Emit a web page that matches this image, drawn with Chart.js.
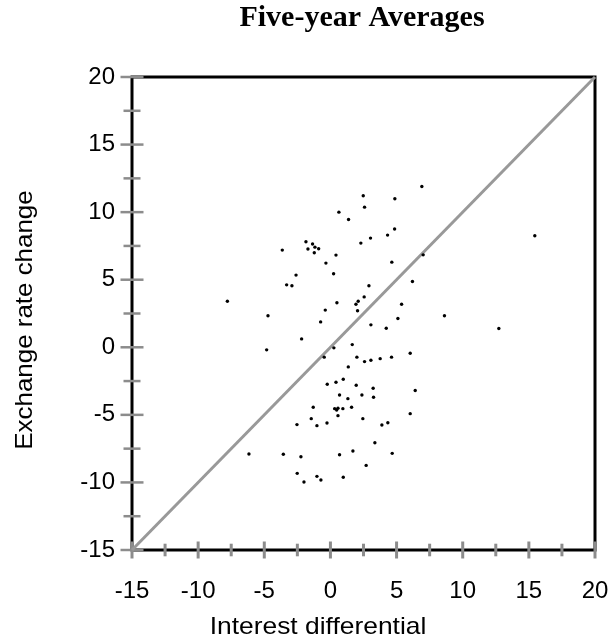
<!DOCTYPE html>
<html>
<head>
<meta charset="utf-8">
<script src="https://cdn.jsdelivr.net/npm/chart.js@4.4.1/dist/chart.umd.min.js"></script>
<style>
  html, body { margin: 0; padding: 0; background: #fff; }
  #wrap { width: 614px; height: 640px; }
</style>
</head>
<body>
<div id="wrap"><canvas id="scatterChart" width="614" height="640"></canvas></div>
<script>
// interest differential (x) and exchange rate change (y), one entry per country
var intDiff = [2.48, 4.87, 2.58, 0.64, 1.37, 4.85, 4.32, 3.03, 2.3, -1.85,
	-1.35, -1.17, -0.89, -1.7, -1.22, -3.64, 0.42, 4.64, -0.34, -2.6,
	0.24, -3.31, -2.91, 2.91, -7.79, 2.55, 2.1, 1.93, 0.49, -0.39,
	2.05, -4.72, -0.74, 5.1, 3.06, 4.22, -2.18, 1.65, 0.26, -4.82,
	-0.47, 2.0, 2.58, 3.06, 3.76, 4.62, 1.35, 6.91, 15.45, 7.01,
	6.2, 5.38, 8.62, 12.73, 6.03, -0.24, 0.42, 0.97, 1.95, 3.23,
	0.69, 1.32, 2.38, 3.26, -1.3, 0.32, 0.47, 0.57, 0.94, 1.6,
	0.57, -1.45, 2.45, -0.26, -2.53, -1.02, 3.89, 4.34, 3.36, -6.16,
	-3.56, -2.23, 0.69, 1.7, 4.67, 2.7, 6.41, 6.03, -2.51, -2.0,
	-1.02, -0.72, 0.97];
var exchChange = [11.21, 10.99, 10.37, 10.0, 9.46, 8.75, 8.3, 8.08, 7.71, 7.81,
	7.64, 7.41, 7.29, 7.27, 6.99, 7.19, 6.82, 6.3, 6.23, 5.34,
	5.44, 4.62, 4.55, 4.55, 3.41, 3.73, 3.41, 3.19, 3.29, 2.75,
	2.7, 2.33, 1.88, 2.13, 1.66, 1.41, 0.62, 0.2, -0.04, -0.19,
	-0.73, -0.73, -1.06, -0.96, -0.84, -0.73, -1.45, 11.9, 8.25, 6.84,
	4.87, 3.19, 2.33, 1.39, -0.44, -2.73, -2.59, -2.36, -2.81, -3.03,
	-3.53, -3.8, -3.53, -3.7, -4.44, -4.54, -4.64, -4.51, -4.54, -4.44,
	-5.06, -5.28, -5.28, -5.6, -5.72, -5.8, -5.75, -5.58, -7.06, -7.9,
	-7.92, -8.1, -7.95, -7.67, -7.85, -8.74, -3.2, -4.91, -9.33, -9.97,
	-9.55, -9.82, -9.62];

// 45 degree reference line
var lineX = [-15, 20];
var lineY = [-15, 20];

// labelled ticks (minor ticks every 2.5 in between)
var majorTicks = [-15, -10, -5, 0, 5, 10, 15, 20];

var points = [];
for (var i = 0; i < intDiff.length; i++)
	points.push({x: intDiff[i], y: exchChange[i]});

var diag = [];
for (var i = 0; i < lineX.length; i++)
	diag.push({x: lineX[i], y: lineY[i]});

var sansFont = '"Liberation Sans", Arial, sans-serif';

// frame + gray ticks crossing the axis lines
var framePlugin = {
	id: 'frame',
	beforeDatasetsDraw: function(chart) {
		var ctx = chart.ctx;
		var a = chart.chartArea;
		var xs = chart.scales.x, ys = chart.scales.y;

		ctx.save();
		ctx.strokeStyle = '#000';
		ctx.lineWidth = 3;
		ctx.strokeRect(a.left, a.top, a.right - a.left, a.bottom - a.top);

		ctx.strokeStyle = '#8c8c8c';
		ctx.lineWidth = 3;
		xs.ticks.forEach(function(t) {
			var px = xs.getPixelForValue(t.value);
			var len = majorTicks.indexOf(t.value) >= 0 ? 8.5 : 6.3;
			ctx.beginPath();
			ctx.moveTo(px, a.bottom - len);
			ctx.lineTo(px, a.bottom + len);
			ctx.stroke();
		});
		ctx.lineWidth = 2.5;
		ys.ticks.forEach(function(t) {
			var py = ys.getPixelForValue(t.value);
			var len = majorTicks.indexOf(t.value) >= 0 ? 11.5 : 8.5;
			ctx.beginPath();
			ctx.moveTo(a.left - len, py);
			ctx.lineTo(a.left + len, py);
			ctx.stroke();
		});
		ctx.restore();
	}
};

// titles, stretched a bit like the original
var textPlugin = {
	id: 'texts',
	afterDraw: function(chart) {
		var ctx = chart.ctx;
		ctx.save();
		ctx.fillStyle = '#000';
		ctx.textAlign = 'center';
		ctx.textBaseline = 'alphabetic';

		ctx.font = 'bold 30px "Liberation Serif", "Times New Roman", serif';
		ctx.fillText('Five-year Averages', 362, 26);

		ctx.font = '24px ' + sansFont;
		ctx.save();
		ctx.translate(318, 634);
		ctx.scale(1.1, 1);
		ctx.fillText('Interest differential', 0, 0);
		ctx.restore();

		ctx.save();
		ctx.translate(32, 320);
		ctx.rotate(-Math.PI / 2);
		ctx.scale(1.08, 1);
		ctx.fillText('Exchange rate change', 0, 0);
		ctx.restore();

		ctx.restore();
	}
};

function tickLabel(v) {
	return majorTicks.indexOf(v) >= 0 ? String(v) : '';
}

var ctx = document.getElementById('scatterChart').getContext('2d');
var chart = new Chart(ctx, {
	type: 'scatter',
	data: {
		datasets: [{
			label: 'countries',
			data: points,
			backgroundColor: '#000',
			borderWidth: 0,
			pointRadius: 1.7,
			pointHoverRadius: 1.7,
			order: 1
		}, {
			type: 'line',
			label: '45 degree',
			data: diag,
			borderColor: '#999',
			borderWidth: 3,
			pointRadius: 0,
			fill: false,
			clip: false,
			order: 2
		}]
	},
	options: {
		responsive: false,
		animation: false,
		layout: {
			padding: {top: 77, right: 0, left: 0, bottom: 0}
		},
		plugins: {
			legend: {display: false},
			tooltip: {enabled: false},
			title: {display: false}
		},
		scales: {
			x: {
				type: 'linear',
				min: -15,
				max: 20,
				grid: {display: false, drawTicks: false},
				border: {display: false},
				ticks: {
					stepSize: 2.5,
					autoSkip: false,
					maxRotation: 0,
					padding: 27,
					color: '#000',
					font: {size: 24, family: sansFont},
					callback: tickLabel
				},
				afterFit: function(scale) {
					scale.height = 90;
					scale.paddingLeft = 0;
					scale.paddingRight = 19;
				}
			},
			y: {
				type: 'linear',
				min: -15,
				max: 20,
				grid: {display: false, drawTicks: false},
				border: {display: false},
				ticks: {
					stepSize: 2.5,
					autoSkip: false,
					padding: 17,
					color: '#000',
					font: {size: 24, family: sansFont},
					callback: tickLabel
				},
				afterFit: function(scale) {
					scale.width = 132;
					scale.paddingTop = 0;
					scale.paddingBottom = 0;
				}
			}
		}
	},
	plugins: [framePlugin, textPlugin]
});
</script>
</body>
</html>
